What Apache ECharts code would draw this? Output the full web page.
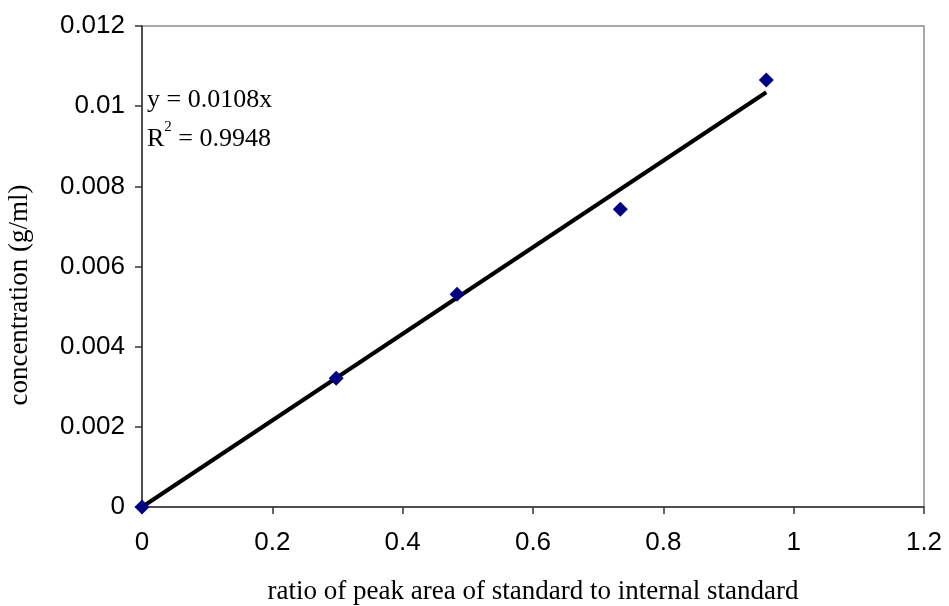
<!DOCTYPE html>
<html>
<head>
<meta charset="utf-8">
<script src="https://cdn.jsdelivr.net/npm/echarts@6/dist/echarts.min.js"></script>
<style>
  html, body { margin: 0; padding: 0; background: #fff; }
  #chart { width: 949px; height: 606px; }
</style>
</head>
<body>
<div id="chart"></div>
<script>
// Calibration points: peak-area ratio vs concentration
const ratios = [0, 0.298, 0.4835, 0.734, 0.958];
const concentrations = [0, 0.00321, 0.00531, 0.00743, 0.01065];

// Linear fit forced through the origin
const slope = 0.0108;
const rSquared = 0.9948;
const fitRange = [0, 0.958];

const xTicks = { min: 0, max: 1.2, interval: 0.2 };
const yTicks = { min: 0, max: 0.012, interval: 0.002 };

const xTitle = 'ratio of peak area of standard to internal standard';
const yTitle = 'concentration (g/ml)';

const chart = echarts.init(document.getElementById('chart'), null, { renderer: 'canvas' });

const serif = '"Liberation Serif", "Times New Roman", serif';
const sans = '"Liberation Sans", Arial, sans-serif';

chart.setOption({
  animation: false,
  backgroundColor: '#ffffff',
  grid: {
    left: 142, right: 25, top: 26, bottom: 99,
    containLabel: false, outerBoundsMode: 'none',
    show: true, borderColor: '#8c8c8c', borderWidth: 1.5
  },
  xAxis: {
    type: 'value',
    min: xTicks.min, max: xTicks.max, interval: xTicks.interval,
    name: xTitle,
    nameLocation: 'middle', nameGap: 71,
    nameTextStyle: { fontFamily: serif, fontSize: 27, color: '#000' },
    axisLine: { onZero: false, lineStyle: { color: '#333', width: 1.5 } },
    axisTick: { show: true, inside: false, length: 7, lineStyle: { color: '#333', width: 1.5 } },
    axisLabel: { fontFamily: sans, fontSize: 26, color: '#000', margin: 23, formatter: v => String(+v.toFixed(1)) },
    splitLine: { show: false }
  },
  yAxis: {
    type: 'value',
    min: yTicks.min, max: yTicks.max, interval: yTicks.interval,
    axisLine: { show: true, onZero: false, lineStyle: { color: '#333', width: 1.5 } },
    axisTick: { show: true, inside: false, length: 7, lineStyle: { color: '#333', width: 1.5 } },
    axisLabel: { fontFamily: sans, fontSize: 26, color: '#000', margin: 17, formatter: v => String(+v.toFixed(3)) },
    splitLine: { show: false }
  },
  series: [
    {
      name: 'trend',
      type: 'line',
      data: fitRange.map(x => [x, slope * x]),
      showSymbol: false,
      lineStyle: { color: '#000', width: 4 },
      z: 2
    },
    {
      name: 'standards',
      type: 'scatter',
      data: ratios.map((x, i) => [x, concentrations[i]]),
      symbol: 'diamond',
      symbolSize: [15, 15],
      itemStyle: { color: '#000080', opacity: 1 },
      z: 3
    }
  ],
  graphic: [
    {
      // vertical axis title, set a little below the plot's middle
      type: 'text',
      x: 20, y: 295,
      rotation: Math.PI / 2,
      style: {
        text: yTitle,
        fontFamily: serif, fontSize: 27, fill: '#000',
        align: 'center', verticalAlign: 'middle'
      }
    },
    {
      // fitted equation and coefficient of determination
      type: 'text',
      left: 147, top: 87,
      style: {
        text: '{t|y = ' + slope + 'x}\n{t|R}{s|2}{t| = ' + rSquared + '}',
        rich: {
          t: { fontFamily: serif, fontSize: 26, fill: '#000', lineHeight: 39 },
          s: { fontFamily: serif, fontSize: 15, fill: '#000', verticalAlign: 'top', lineHeight: 39, padding: [0, 0, 16, 0] }
        }
      }
    }
  ]
});
</script>
</body>
</html>
